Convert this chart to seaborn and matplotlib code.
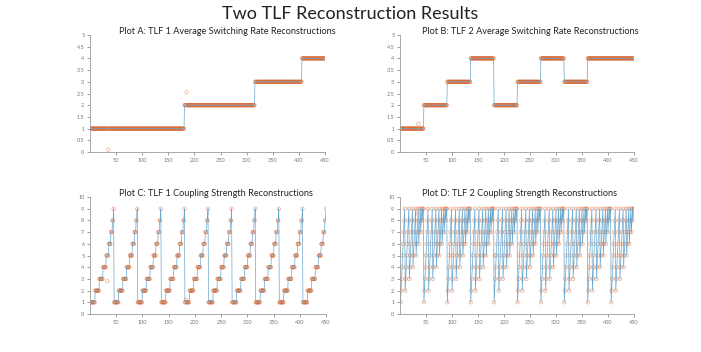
import numpy as np
import pandas as pd
import matplotlib.pyplot as plt
import seaborn as sns

# true switching-rate level of each 45-sample block
tlf1_rate_blocks = [1, 1, 1, 1, 2, 2, 2, 3, 3, 4]
tlf2_rate_blocks = [1, 2, 3, 4, 2, 3, 4, 3, 4, 4]
block_len = 45

# coupling strength inside one 45-sample block (same for every block)
tlf1_coupling_block = [1, 1, 1, 1, 1, 1, 1, 1, 1,
                       2, 2, 2, 2, 2, 2, 2, 2,
                       3, 3, 3, 3, 3, 3, 3,
                       4, 4, 4, 4, 4, 4,
                       5, 5, 5, 5, 5,
                       6, 6, 6, 6,
                       7, 7, 7,
                       8, 8,
                       9]
tlf2_coupling_block = [1, 2, 3, 4, 5, 6, 7, 8, 9,
                       2, 3, 4, 5, 6, 7, 8, 9,
                       3, 4, 5, 6, 7, 8, 9,
                       4, 5, 6, 7, 8, 9,
                       5, 6, 7, 8, 9,
                       6, 7, 8, 9,
                       7, 8, 9,
                       8, 9,
                       9]

# reconstructions that missed the true value: sample index -> value
misses_a = {35: 0.1, 185: 2.55}
misses_b = {35: 1.2}
misses_c = {33: 2.8, 183: 1.2}
misses_d = {34: 8.6, 182: 5.0}

sample = np.arange(1, block_len * len(tlf1_rate_blocks) + 1)
n_blocks = len(tlf1_rate_blocks)

truth = {
    "A": np.repeat(tlf1_rate_blocks, block_len).astype(float),
    "B": np.repeat(tlf2_rate_blocks, block_len).astype(float),
    "C": np.tile(tlf1_coupling_block, n_blocks).astype(float),
    "D": np.tile(tlf2_coupling_block, n_blocks).astype(float),
}
misses = {"A": misses_a, "B": misses_b, "C": misses_c, "D": misses_d}

titles = {
    "A": "Plot A: TLF 1 Average Switching Rate Reconstructions",
    "B": "Plot B: TLF 2 Average Switching Rate Reconstructions",
    "C": "Plot C: TLF 1 Coupling Strength Reconstructions",
    "D": "Plot D: TLF 2 Coupling Strength Reconstructions",
}
# axes boxes in pixels (left, top, right, bottom) and title centre x
W, H = 701, 352
boxes = {
    "A": (90, 35, 325, 152, 227),
    "B": (400, 35, 634, 152, 530),
    "C": (90, 197, 326, 314, 216),
    "D": (400, 197, 634, 314, 520),
}

sns.set_style("white")
plt.rcParams["font.family"] = ["Lato", "DejaVu Sans"]

fig = plt.figure(figsize=(W / 100, H / 100), dpi=100)
fig.text(0.5, 1 - 14 / H, "Two TLF Reconstruction Results", ha="center", va="center",
         fontsize=13, color="#222222")

for key in ["A", "B", "C", "D"]:
    l, t, r, b, tc = boxes[key]
    ax = fig.add_axes([l / W, 1 - b / H, (r - l) / W, (b - t) / H])
    y_true = truth[key]
    y_rec = y_true.copy()
    for idx, val in misses[key].items():
        y_rec[idx - 1] = val
    df = pd.DataFrame({"sample": sample, "truth": y_true, "recon": y_rec})

    sns.lineplot(data=df, x="sample", y="truth", ax=ax, color="#6aa6cc",
                 linewidth=0.5, sort=False, estimator=None)
    sns.scatterplot(data=df, x="sample", y="recon", ax=ax, marker="o",
                    facecolor="none", edgecolor="#d9622b", linewidth=0.55,
                    s=6, alpha=0.5)

    ax.set_xlim(0, 450)
    ax.set_xticks(np.arange(50, 451, 50))
    if key in ("A", "B"):
        ax.set_ylim(0, 5)
        ax.set_yticks(np.arange(0, 5.01, 0.5))
        ax.set_yticklabels([f"{v:g}" for v in np.arange(0, 5.01, 0.5)])
    else:
        ax.set_ylim(0, 10)
        ax.set_yticks(np.arange(0, 11, 1))
    ax.set_xlabel("")
    ax.set_ylabel("")
    for side in ("top", "right"):
        ax.spines[side].set_visible(False)
    for side in ("left", "bottom"):
        ax.spines[side].set_color("#9a9a9a")
        ax.spines[side].set_linewidth(0.6)
    ax.tick_params(axis="both", labelsize=4, colors="#777777", length=2,
                   width=0.5, pad=2, direction="out", left=True, bottom=True)

    fig.text(tc / W, 1 - (t - 4) / H, titles[key], ha="center", va="center",
             fontsize=6.6, color="#222222")

fig.savefig("out.png", dpi=100)
